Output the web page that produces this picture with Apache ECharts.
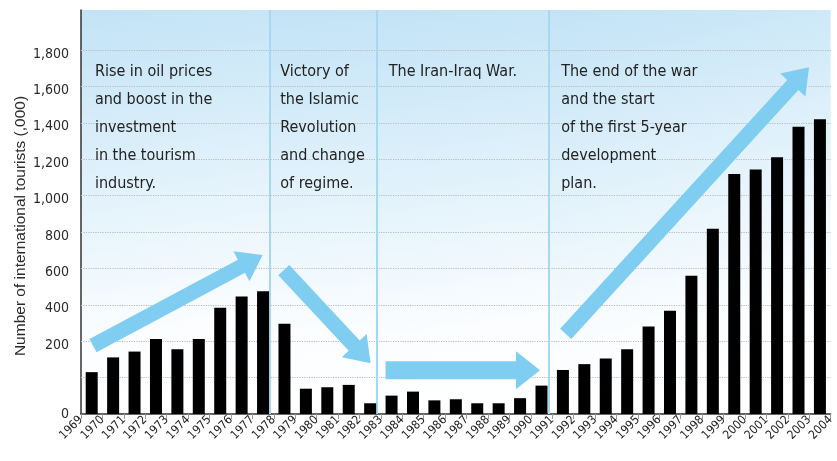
<!DOCTYPE html>
<html><head><meta charset="utf-8">
<script src="https://cdn.jsdelivr.net/npm/echarts@6/dist/echarts.min.js"></script>
<style>html,body{margin:0;padding:0;background:#fff}#c{width:837px;height:461px}</style>
</head><body><div id="c"></div>
<script>
// ---- data ----
const barYears = ['1969','1970','1971','1972','1973','1974','1975','1976','1977','1978','1979','1980','1981','1982','1983','1984','1985','1986','1987','1988','1989','1990','1991','1992','1993','1994','1995','1996','1997','1998','1999','2000','2001','2002','2003'];
const tourists = [230,311,343,412,356,412,584,646,674,496,139,147,160,59,101,123,75,81,59,59,87,156,242,274,305,356,481,568,760,1018,1319,1344,1411,1578,1620];
const xTickLabels = ['1969','1970','1971','1972','1973','1974','1975','1976','1977','1978','1979','1980','1981','1982','1983','1984','1985','1986','1987','1988','1989','1990','1991','1992','1993','1994','1995','1996','1997','1998','1999','2000','2001','2002','2003','2004'];
const yTickLabels = ['0','','200','400','600','800','1,000','1,200','1,400','1,600','1,800',''];
const gridValues = [200,400,600,800,1000,1200,1400,1600,1800,2000];
const sectionBounds = [1969, 1977.8, 1982.8, 1990.85, 2004.1];
const sectionNotes = [
  ['Rise in oil prices','and boost in the','investment','in the tourism','industry.'],
  ['Victory of','the Islamic','Revolution','and change','of regime.'],
  ['The Iran-Iraq War.'],
  ['The end of the war','and the start','of the first 5-year','development','plan.']
];
const noteAnchors = [[1969.65,1956],[1978.3,1956],[1983.37,1956],[1991.42,1956]];
const arrowPaths = [
  [[1969.56,376],[1977.48,874]],
  [[1978.47,791],[1982.52,279]],
  [[1983.22,240],[1990.43,240]],
  [[1991.63,440],[2002.99,1905]]
];
const yTitle = 'Number of international tourists (,000)';

// ---- chart ----
const chart = echarts.init(document.getElementById('c'), null, {renderer:'canvas'});
const narrow = '"Liberation Sans Narrow","DejaVu Sans Condensed",sans-serif';
const bgGrad = {type:'linear',x:0,y:0,x2:0.35,y2:1,colorStops:[
  {offset:0,color:'#c2e3f6'},{offset:0.45,color:'#e2f2fb'},{offset:0.8,color:'#fbfdff'},{offset:1,color:'#ffffff'}]};
const areas = [];
for (let i=0;i<sectionBounds.length-1;i++){
  areas.push([{xAxis:sectionBounds[i],yAxis:0},{xAxis:sectionBounds[i+1],yAxis:2220}]);
}
const option = {
  animation:false,
  grid:{left:81,right:2.5,top:10,bottom:47},
  xAxis:[
    {type:'category',data:barYears,boundaryGap:true,axisLine:{show:false},axisTick:{show:false},axisLabel:{show:false}},
    {type:'value',min:1969,max:2004,interval:1,position:'bottom',
     axisLine:{show:true,onZero:false,lineStyle:{color:'#333',width:1.5}},
     axisTick:{show:true,length:5,lineStyle:{color:'#999'}},
     splitLine:{show:false},
     axisLabel:{rotate:45,margin:4,fontSize:12,fontFamily:narrow,color:'#222',
       formatter:(v)=>{const i=Math.round(v-1969);return xTickLabels[i]||'';}}}
  ],
  yAxis:{type:'value',min:0,max:2220,interval:200,
    axisLine:{show:true,lineStyle:{color:'#333',width:1.5}},
    axisTick:{show:false},splitLine:{show:false},
    axisLabel:{margin:12,fontSize:14,fontFamily:narrow,color:'#2a2a2a',showMaxLabel:false,
      formatter:(v)=>{const i=Math.round(v/200); if(Math.abs(v-i*200)>1e-6||!yTickLabels[i]) return ''; return i===0?'{z|'+yTickLabels[i]+'}':'{n|'+yTickLabels[i]+'}';},
      rich:{z:{fontSize:14,fontFamily:narrow,color:'#2a2a2a'},n:{fontSize:14,fontFamily:narrow,color:'#2a2a2a',padding:[8,0,0,0]}}}
  },
  series:[
    {type:'line',xAxisIndex:1,data:[],silent:true,
      markArea:{silent:true,z:0,itemStyle:{color:bgGrad},data:areas},
      markLine:{silent:true,z:1,symbol:'none',label:{show:false},
        data:[
          ...gridValues.map(v=>({yAxis:v,lineStyle:{color:'#b8bcbf',type:'dotted',width:1.2}})),
          ...sectionBounds.slice(1,4).map(x=>({xAxis:x,lineStyle:{color:'#a6d8f1',type:'solid',width:2}}))
        ]}},
    {type:'bar',xAxisIndex:0,data:tourists,barWidth:12,itemStyle:{color:'#000'},z:3}
  ]
};
chart.setOption(option);

function px(p){return chart.convertToPixel({xAxisIndex:1,yAxisIndex:0},p);}
const graphics = [];
arrowPaths.forEach((a,k)=>{
  const t=px(a[0]), h=px(a[1]);
  const dx=h[0]-t[0], dy=h[1]-t[1], L=Math.hypot(dx,dy);
  const ux=dx/L, uy=dy/L, nx=-uy, ny=ux;
  const hl=24, hw=k===2?19:17, sw=k===2?9:7.5;
  const bx=h[0]-ux*hl, by=h[1]-uy*hl;
  graphics.push({type:'polygon',z:10,silent:true,shape:{points:[
    [t[0]+nx*sw,t[1]+ny*sw],[bx+nx*sw,by+ny*sw],[bx+nx*hw,by+ny*hw],[h[0],h[1]],
    [bx-nx*hw,by-ny*hw],[bx-nx*sw,by-ny*sw],[t[0]-nx*sw,t[1]-ny*sw]]},
    style:{fill:'#7fcdf1'}});
});
sectionNotes.forEach((lines,k)=>{
  const p=px(noteAnchors[k]);
  graphics.push({type:'text',z:11,silent:true,x:p[0],y:p[1],style:{
    text:lines.join('\n'),font:'16px '+narrow,fill:'#222',lineHeight:28,verticalAlign:'top',align:'left'}});
});
graphics.push({type:'text',z:11,silent:true,x:21,y:226,rotation:Math.PI/2,style:{
  text:yTitle,font:'15.5px "Liberation Sans",Arial,sans-serif',fill:'#2a2a2a',align:'center',verticalAlign:'middle'}});
chart.setOption({graphic:graphics});
</script>
</body></html>
